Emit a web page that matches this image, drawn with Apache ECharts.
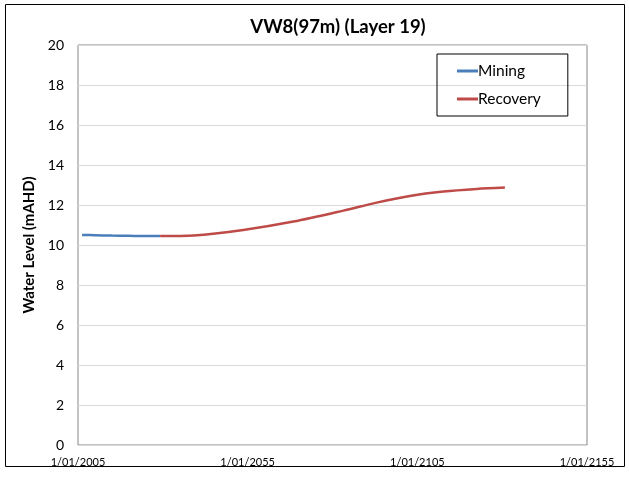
<!DOCTYPE html>
<html><head><meta charset="utf-8">
<script src="https://cdn.jsdelivr.net/npm/echarts@6/dist/echarts.min.js"></script>
<style>html,body{margin:0;padding:0;background:#fff}#c{width:629px;height:479px}</style>
</head><body><div id="c"></div>
<script>
const title = 'VW8(97m) (Layer 19)';
const yAxisName = 'Water Level (mAHD)';
const xTickYears = [2005, 2055, 2105, 2155];
const miningYears = [2006.2, 2010, 2015, 2020, 2025, 2029.2];
const miningValues = [10.5, 10.49, 10.47, 10.46, 10.45, 10.45];
const recoveryYears = [2029.2, 2039.1, 2053.7, 2068.5, 2083.2, 2093.0, 2102.8, 2112.7, 2122.5, 2130.8];
const recoveryValues = [10.45, 10.48, 10.75, 11.17, 11.72, 12.12, 12.45, 12.67, 12.8, 12.87];
const baseYear = xTickYears[0];

const chart = echarts.init(document.getElementById('c'));
const font = 'Lato, "Liberation Sans", sans-serif';
chart.setOption({
  animation: false,
  title: { text: title, left: 333, textAlign: 'center', top: 13,
    textStyle: { fontFamily: font, fontSize: 18.5, fontWeight: 'bold', color: '#000' } },
  grid: { left: 78, right: 42, top: 45, bottom: 34, show: true, borderColor: '#868686', borderWidth: 1 },
  legend: {
    left: 437, top: 54, orient: 'vertical', itemGap: 12, itemWidth: 21, itemHeight: 3,
    icon: 'rect', padding: [9, 27, 9, 20], borderColor: '#000', borderWidth: 1,
    textStyle: { fontFamily: font, fontSize: 15.5, color: '#000', padding: [0, 0, 0, -5] },
    data: ['Mining', 'Recovery']
  },
  xAxis: {
    type: 'value', min: 0, max: 150, interval: 50,
    axisLine: { show: false }, axisTick: { show: false }, splitLine: { show: false },
    axisLabel: { fontFamily: font, fontSize: 11, color: '#000', margin: 12,
      formatter: v => '1/01/' + (baseYear + v) }
  },
  yAxis: {
    type: 'value', min: 0, max: 20, interval: 2,
    name: yAxisName, nameLocation: 'middle', nameGap: 36,
    nameTextStyle: { fontFamily: font, fontSize: 15, fontWeight: 'bold', color: '#000' },
    axisLine: { show: false }, axisTick: { show: false },
    splitLine: { lineStyle: { color: '#d9d9d9', width: 1 } },
    axisLabel: { fontFamily: font, fontSize: 14, color: '#000', margin: 14 }
  },
  graphic: [{ type: 'rect', shape: { x: 5.5, y: 4.5, width: 619, height: 462 },
    style: { fill: 'none', stroke: '#000', lineWidth: 1 }, silent: true, z: -1 }],
  series: [
    { name: 'Mining', type: 'line', showSymbol: false, smooth: 0.3,
      lineStyle: { color: '#4a7ebb', width: 2.5 }, itemStyle: { color: '#4a7ebb' },
      data: miningYears.map((y, i) => [y - baseYear, miningValues[i]]) },
    { name: 'Recovery', type: 'line', showSymbol: false, smooth: 0.3,
      lineStyle: { color: '#be4b48', width: 2.5 }, itemStyle: { color: '#be4b48' },
      data: recoveryYears.map((y, i) => [y - baseYear, recoveryValues[i]]) }
  ]
});
</script></body></html>
